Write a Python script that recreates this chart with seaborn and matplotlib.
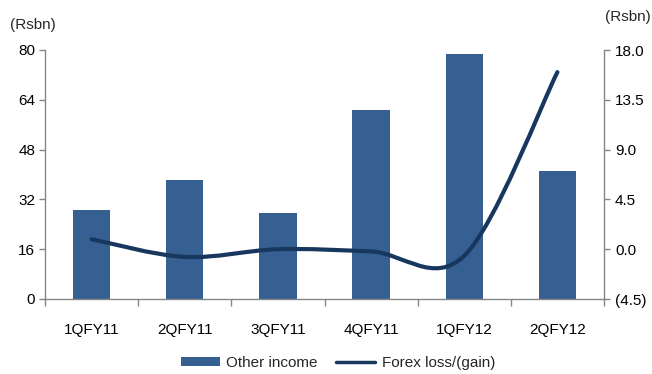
import matplotlib
matplotlib.use("Agg")
import matplotlib.pyplot as plt
from matplotlib.path import Path
from matplotlib.patches import PathPatch, Patch
from matplotlib.lines import Line2D
import seaborn as sns
import pandas as pd
import numpy as np

categories = ["1QFY11", "2QFY11", "3QFY11", "4QFY11", "1QFY12", "2QFY12"]
other_income = [28.7, 38.3, 27.7, 60.6, 78.8, 41.1]
forex = [0.9, -0.7, 0.0, -0.2, -0.6, 16.0]
left_ticks = [0, 16, 32, 48, 64, 80]
right_ticks = [-4.5, 0.0, 4.5, 9.0, 13.5, 18.0]
right_labels = ["(4.5)", "0.0", "4.5", "9.0", "13.5", "18.0"]

BAR = "#366092"
LINE = "#17375E"
GREY = "#868686"

sns.set_theme(style="white")
plt.rcParams["font.family"] = ["Liberation Sans", "DejaVu Sans"]
FS = 11

fig = plt.figure(figsize=(6.52, 3.74), dpi=100)
ax = fig.add_axes([45/652, 1-299/374, (604-45)/652, (299-50)/374])

df = pd.DataFrame({"cat": categories, "val": other_income})
sns.barplot(data=df, x="cat", y="val", color=BAR, width=0.4, ax=ax,
            saturation=1, edgecolor="none")
ax.set_xlim(-0.5, 5.5)
ax.set_ylim(0, 80)
ax.set_yticks(left_ticks)
ax.set_yticklabels([str(t) for t in left_ticks], fontsize=FS, color="black")
ax.set_xlabel("")
ax.set_ylabel("")
ax.set_xticks(range(len(categories)))
ax.set_xticklabels(categories, fontsize=FS, color="black")
ax.tick_params(axis="x", length=0, pad=17)
ax.set_xticks(np.arange(-0.5, 6, 1), minor=True)
ax.tick_params(axis="x", which="minor", length=5, color=GREY, width=1, direction="out", bottom=True)
ax.tick_params(axis="y", length=4, color=GREY, width=1, direction="out", left=True, pad=3)
for s in ["top", "right"]:
    ax.spines[s].set_visible(False)
for s in ["left", "bottom"]:
    ax.spines[s].set_color(GREY)
    ax.spines[s].set_linewidth(1)

ax2 = ax.twinx()
ax2.set_ylim(-4.5, 18.0)
ax2.set_yticks(right_ticks)
ax2.set_yticklabels(right_labels, fontsize=FS, color="black")
ax2.tick_params(axis="y", length=4, color=GREY, width=1, direction="out", right=True, pad=4)
for s in ["top", "left", "bottom"]:
    ax2.spines[s].set_visible(False)
ax2.spines["right"].set_color(GREY)
ax2.spines["right"].set_linewidth(1)
ax2.grid(False)
ax.grid(False)

# Smoothed line (Bezier, like Excel's smoothing), built from the data points
xs = np.arange(len(forex), dtype=float)
ys = np.array(forex, dtype=float)
verts = [(xs[0], ys[0])]
codes = [Path.MOVETO]
n = len(xs)
for i in range(n - 1):
    p0 = (xs[i-1], ys[i-1]) if i > 0 else (xs[i], ys[i])
    p1 = (xs[i], ys[i])
    p2 = (xs[i+1], ys[i+1])
    p3 = (xs[i+2], ys[i+2]) if i + 2 < n else (xs[i+1], ys[i+1])
    c1 = (p1[0] + (p2[0]-p0[0])/6, p1[1] + (p2[1]-p0[1])/6)
    c2 = (p2[0] - (p3[0]-p1[0])/6, p2[1] - (p3[1]-p1[1])/6)
    verts += [c1, c2, p2]
    codes += [Path.CURVE4]*3
ax2.add_patch(PathPatch(Path(verts, codes), facecolor="none", edgecolor=LINE,
                        lw=3, capstyle="round", joinstyle="round"))

fig.text(10/652, 1-25/374, "(Rsbn)", fontsize=FS, va="center", ha="left")
fig.text(651/652, 1-17/374, "(Rsbn)", fontsize=FS, va="center", ha="right")

handles = [Patch(facecolor=BAR, edgecolor="none"),
           Line2D([0], [0], color=LINE, lw=2.5)]
fig.legend(handles, ["Other income", "Forex loss/(gain)"], loc="center",
           bbox_to_anchor=(338/652, 1-363/374), ncol=2, frameon=False,
           fontsize=FS, handlelength=2.55, handleheight=0.55, columnspacing=1.2,
           handletextpad=0.45)

fig.savefig("out.png", dpi=100)
